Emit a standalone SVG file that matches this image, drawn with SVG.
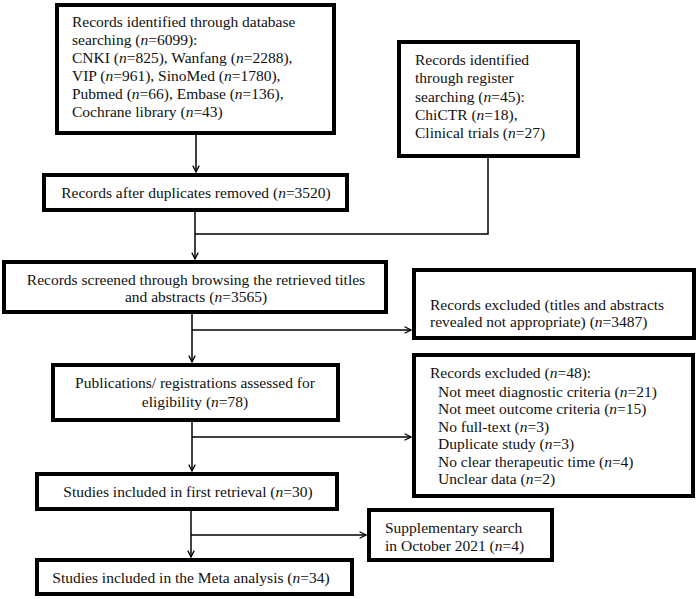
<svg xmlns="http://www.w3.org/2000/svg" width="699" height="599" viewBox="0 0 699 599">
<defs>
<style>
.box{fill:#fff;stroke:#000;stroke-width:4}
.c{text-anchor:middle}
.i{font-style:italic}
.ln{stroke:#000;stroke-width:1.5;fill:none}
</style>
<marker id="ah" viewBox="0 0 10 10" refX="9" refY="5" markerWidth="8" markerHeight="8" markerUnits="userSpaceOnUse" orient="auto">
<path d="M1,1 L9,5 L1,9" fill="none" stroke="#000" stroke-width="1.6"/>
</marker>
</defs>
<rect width="699" height="599" fill="#fff"/>
<g id="connectors">
<line class="ln" x1="196" y1="135" x2="196" y2="172" marker-end="url(#ah)"/>
<line class="ln" x1="195" y1="212" x2="195" y2="259" marker-end="url(#ah)"/>
<polyline class="ln" points="488,158 488,234 195,234"/>
<line class="ln" x1="192" y1="314" x2="192" y2="362" marker-end="url(#ah)"/>
<line class="ln" x1="192" y1="330" x2="411" y2="330" marker-end="url(#ah)"/>
<line class="ln" x1="192" y1="422" x2="192" y2="471" marker-end="url(#ah)"/>
<line class="ln" x1="192" y1="437" x2="411" y2="437" marker-end="url(#ah)"/>
<line class="ln" x1="191" y1="511" x2="191" y2="557" marker-end="url(#ah)"/>
<line class="ln" x1="191" y1="535" x2="366" y2="535" marker-end="url(#ah)"/>
</g>
<g font-family="Liberation Serif, Times New Roman, DejaVu Serif, serif" font-size="15.5" fill="#111">
<g id="db">
<rect class="box" x="57" y="5" width="277" height="128"/>
<text x="72" y="27">Records identified through database</text>
<text x="72" y="45">searching (<tspan class="i">n</tspan>=6099):</text>
<text x="72" y="63">CNKI (<tspan class="i">n</tspan>=825), Wanfang (<tspan class="i">n</tspan>=2288),</text>
<text x="72" y="81">VIP (<tspan class="i">n</tspan>=961), SinoMed (<tspan class="i">n</tspan>=1780),</text>
<text x="72" y="99">Pubmed (<tspan class="i">n</tspan>=66), Embase (<tspan class="i">n</tspan>=136),</text>
<text x="72" y="117">Cochrane library (<tspan class="i">n</tspan>=43)</text>
</g>
<g id="register">
<rect class="box" x="399" y="42" width="179" height="114"/>
<text x="415" y="65">Records identified</text>
<text x="415" y="83">through register</text>
<text x="415" y="102">searching (<tspan class="i">n</tspan>=45):</text>
<text x="415" y="120">ChiCTR (<tspan class="i">n</tspan>=18),</text>
<text x="415" y="138">Clinical trials (<tspan class="i">n</tspan>=27)</text>
</g>
<g id="dedup">
<rect class="box" x="44" y="175" width="303" height="35"/>
<text class="c" x="196" y="198">Records after duplicates removed (<tspan class="i">n</tspan>=3520)</text>
</g>
<g id="screened">
<rect class="box" x="4" y="262" width="382" height="50"/>
<text class="c" x="196" y="285">Records screened through browsing the retrieved titles</text>
<text class="c" x="196" y="302">and abstracts (<tspan class="i">n</tspan>=3565)</text>
</g>
<g id="excluded1">
<rect class="box" x="414" y="270" width="280" height="68"/>
<text x="430" y="310">Records excluded (titles and abstracts</text>
<text x="430" y="327">revealed not appropriate) (<tspan class="i">n</tspan>=3487)</text>
</g>
<g id="eligibility">
<rect class="box" x="53" y="365" width="285" height="55"/>
<text class="c" x="195" y="388">Publications/ registrations assessed for</text>
<text class="c" x="195" y="407">eligibility (<tspan class="i">n</tspan>=78)</text>
</g>
<g id="excluded2">
<rect class="box" x="414" y="355" width="279" height="141"/>
<text x="430" y="378">Records excluded (<tspan class="i">n</tspan>=48):</text>
<text x="438" y="397">Not meet diagnostic criteria (<tspan class="i">n</tspan>=21)</text>
<text x="438" y="414">Not meet outcome criteria (<tspan class="i">n</tspan>=15)</text>
<text x="438" y="432">No full-text (<tspan class="i">n</tspan>=3)</text>
<text x="438" y="449">Duplicate study (<tspan class="i">n</tspan>=3)</text>
<text x="438" y="467">No clear therapeutic time (<tspan class="i">n</tspan>=4)</text>
<text x="438" y="484">Unclear data (<tspan class="i">n</tspan>=2)</text>
</g>
<g id="first">
<rect class="box" x="37" y="474" width="300" height="35"/>
<text class="c" x="188" y="497">Studies included in first retrieval (<tspan class="i">n</tspan>=30)</text>
</g>
<g id="supplementary">
<rect class="box" x="369" y="510" width="183" height="50"/>
<text x="385" y="533">Supplementary search</text>
<text x="385" y="551">in October 2021 (<tspan class="i">n</tspan>=4)</text>
</g>
<g id="meta">
<rect class="box" x="37" y="560" width="315" height="34"/>
<text class="c" x="191" y="583">Studies included in the Meta analysis (<tspan class="i">n</tspan>=34)</text>
</g>
</g>
</svg>
